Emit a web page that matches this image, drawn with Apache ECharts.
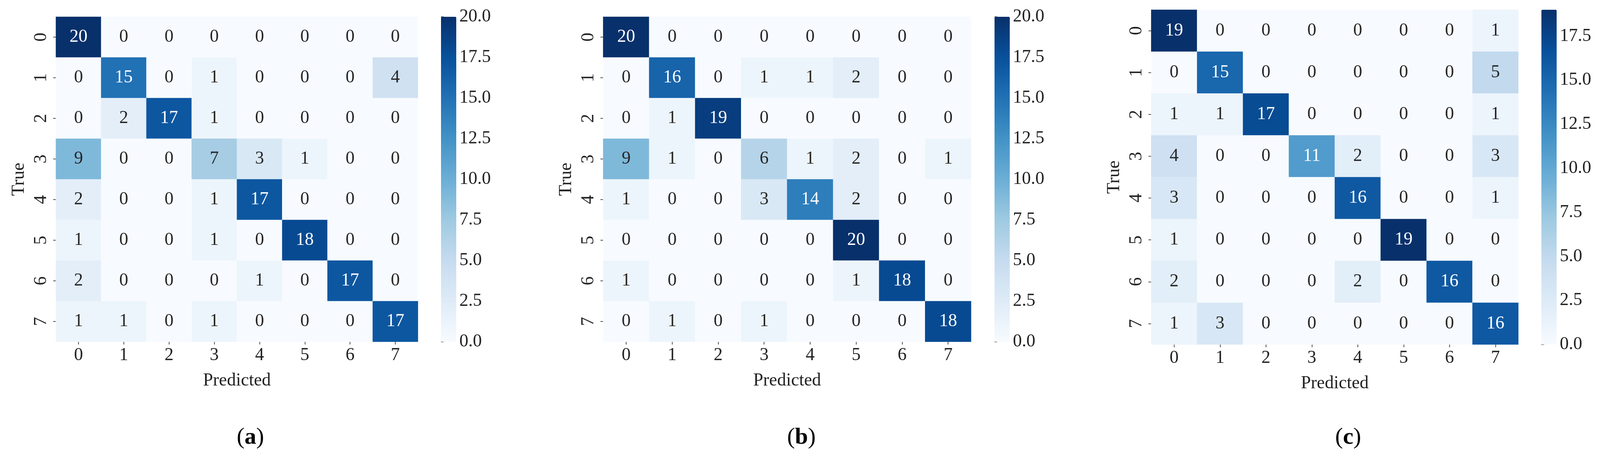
<!DOCTYPE html>
<html><head><meta charset="utf-8">
<script src="https://cdn.jsdelivr.net/npm/echarts@6/dist/echarts.min.js"></script>
<style>html,body{margin:0;padding:0;background:#fff;overflow:hidden}#c{width:100vw;height:100vh}</style>
</head><body><div id="c"></div>
<script>
const labels = ['0','1','2','3','4','5','6','7'];
const matrixA = [
 [20,0,0,0,0,0,0,0],
 [0,15,0,1,0,0,0,4],
 [0,2,17,1,0,0,0,0],
 [9,0,0,7,3,1,0,0],
 [2,0,0,1,17,0,0,0],
 [1,0,0,1,0,18,0,0],
 [2,0,0,0,1,0,17,0],
 [1,1,0,1,0,0,0,17]
];
const matrixB = [
 [20,0,0,0,0,0,0,0],
 [0,16,0,1,1,2,0,0],
 [0,1,19,0,0,0,0,0],
 [9,1,0,6,1,2,0,1],
 [1,0,0,3,14,2,0,0],
 [0,0,0,0,0,20,0,0],
 [1,0,0,0,0,1,18,0],
 [0,1,0,1,0,0,0,18]
];
const matrixC = [
 [19,0,0,0,0,0,0,1],
 [0,15,0,0,0,0,0,5],
 [1,1,17,0,0,0,0,1],
 [4,0,0,11,2,0,0,3],
 [3,0,0,0,16,0,0,1],
 [1,0,0,0,0,19,0,0],
 [2,0,0,0,2,0,16,0],
 [1,3,0,0,0,0,0,16]
];
const captions = ['a','b','c'];
const maxes = [20,20,19];

const blues = ['#f7fbff','#deebf7','#c6dbef','#9ecae1','#6baed6','#4292c6','#2171b5','#08519c','#08306b'];
const FONT = '"Liberation Serif","DejaVu Serif",serif';
const el = document.getElementById('c');
const W = el.clientWidth || window.innerWidth, H = el.clientHeight || window.innerHeight;
const sx = W/4244, sy = H/1193, sf = Math.min(sx, sy);
const X = v=>Math.round(v*sx), Y = v=>Math.round(v*sy), F = v=>Math.round(v*sf);
const panels = [
  {m:matrixA, left:148, top:43, w:960, h:832, cb:1170, cap:628},
  {m:matrixB, left:1600, top:43, w:976, h:832, cb:2638, cap:2088},
  {m:matrixC, left:3054, top:25, w:974, h:857, cb:4089, cap:3541}
];
const grid=[],xAxis=[],yAxis=[],series=[],visualMap=[],graphic=[];
panels.forEach((p,i)=>{
  const mx = maxes[i];
  grid.push({left:X(p.left), top:Y(p.top), width:X(p.w), height:Y(p.h)});
  grid.push({left:X(p.cb), top:Y(p.top), width:X(40), height:Y(p.h)});
  const tick = {show:true, length:F(7), lineStyle:{color:'#555', width:2}};
  const txt = {fontFamily:FONT, fontSize:F(48), color:'#222'};
  xAxis.push({type:'category', gridIndex:2*i, data:labels, axisLine:{show:false}, axisTick:Object.assign({alignWithLabel:true},tick),
    axisLabel:Object.assign({margin:F(12)},txt),
    name:'Predicted', nameLocation:'middle', nameGap:F(80), nameTextStyle:txt, splitLine:{show:false}});
  yAxis.push({type:'category', gridIndex:2*i, data:labels, inverse:true, axisLine:{show:false}, axisTick:Object.assign({alignWithLabel:true},tick),
    axisLabel:Object.assign({rotate:90, margin:F(14)},txt),
    name:'True', nameLocation:'middle', nameGap:F(74), nameTextStyle:txt, splitLine:{show:false}});
  xAxis.push({type:'value', gridIndex:2*i+1, show:false, min:0, max:1});
  yAxis.push({type:'value', gridIndex:2*i+1, position:'right', min:0, max:mx, interval:2.5,
    axisLine:{show:false}, axisTick:tick, splitLine:{show:false},
    axisLabel:Object.assign({margin:F(8), showMaxLabel: mx===20, formatter:v=>v.toFixed(1)},txt)});
  const data=[];
  p.m.forEach((row,r)=>row.forEach((v,c)=>{
    data.push({value:[c,r,v], label:{color: v>mx/2 ? '#ffffff' : '#262626'}});
  }));
  series.push({type:'heatmap', xAxisIndex:2*i, yAxisIndex:2*i, data:data,
    label:{show:true, fontFamily:FONT, fontSize:F(48), formatter:q=>q.value[2]},
    itemStyle:{borderWidth:0}, emphasis:{disabled:true}, progressive:0});
  visualMap.push({type:'continuous', min:0, max:mx, seriesIndex:i, dimension:2, calculable:false,
    inRange:{color:blues}, left:X(p.cb), top:Y(p.top), itemWidth:X(40), itemHeight:Y(p.h), padding:0, text:null, showLabel:false, realtime:false, hoverLink:false});
  graphic.push({type:'text', left:X(p.cap), top:Y(1090), style:{text:'{p|(}{b|'+captions[i]+'}{p|)}',
    rich:{p:{fontFamily:FONT,fontSize:F(62),color:'#000'}, b:{fontFamily:FONT,fontSize:F(62),fontWeight:'bold',color:'#000'}}}});
});
const chart = echarts.init(el);
chart.setOption({animation:false, backgroundColor:'#fff', grid, xAxis, yAxis, series, visualMap, graphic});
</script></body></html>
